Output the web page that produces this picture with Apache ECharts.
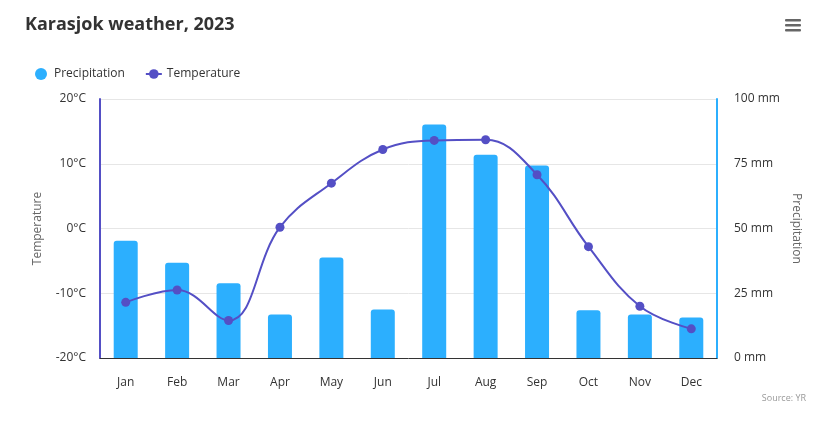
<!DOCTYPE html>
<html>
<head>
<meta charset="utf-8">
<script src="https://cdn.jsdelivr.net/npm/echarts@6/dist/echarts.min.js"></script>
<style>
  html, body { margin: 0; padding: 0; background: #fff; }
  #chart { width: 816px; height: 424px; }
</style>
</head>
<body>
<div id="chart"></div>
<script>
const months = ["Jan", "Feb", "Mar", "Apr", "May", "Jun", "Jul", "Aug", "Sep", "Oct", "Nov", "Dec"];
const precipitation = [45.3, 36.8, 28.9, 16.8, 38.8, 18.7, 90.2, 78.5, 74.3, 18.4, 16.8, 15.6];
const temperature = [-11.4, -9.5, -14.2, 0.2, 7.0, 12.2, 13.6, 13.7, 8.3, -2.8, -12.0, -15.5];

const font = "'Open Sans', 'Noto Sans', sans-serif";
const chart = echarts.init(document.getElementById("chart"));

chart.setOption({
  animation: false,
  textStyle: { fontFamily: font },
  title: {
    text: "Karasjok weather, 2023",
    left: 20,
    top: 11,
    textStyle: { fontSize: 18, fontWeight: "bold", color: "#333333", fontFamily: font }
  },
  legend: {
    left: 30,
    top: 63,
    itemGap: 20,
    itemWidth: 16,
    itemHeight: 12,
    textStyle: { fontSize: 12, color: "#333333", fontFamily: font },
    data: [{ name: "Precipitation", icon: "circle" }, "Temperature"]
  },
  grid: { left: 100, right: 99, top: 99, bottom: 66 },
  xAxis: {
    type: "category",
    data: months,
    axisLine: { onZero: false, lineStyle: { color: "#333333", width: 1 } },
    axisTick: { show: false },
    axisLabel: { color: "#333333", fontSize: 12, margin: 19 }
  },
  yAxis: [
    {
      type: "value",
      name: "Temperature",
      nameLocation: "middle",
      nameGap: 56,
      nameTextStyle: { color: "#666666", fontSize: 12 },
      min: -20,
      max: 20,
      interval: 10,
      axisLine: { show: true, lineStyle: { color: "#544fc5", width: 2 } },
      axisTick: { show: false },
      axisLabel: { formatter: "{value}°C", color: "#333333", fontSize: 12, margin: 14 },
      splitLine: { lineStyle: { color: "#e6e6e6" } }
    },
    {
      type: "value",
      name: "Precipitation",
      nameLocation: "middle",
      nameGap: 70,
      nameRotate: -90,
      nameTextStyle: { color: "#666666", fontSize: 12 },
      min: 0,
      max: 100,
      interval: 25,
      position: "right",
      axisLine: { show: true, lineStyle: { color: "#2caffe", width: 2 } },
      axisTick: { show: false },
      axisLabel: { formatter: "{value} mm", color: "#333333", fontSize: 12, margin: 17 },
      splitLine: { show: false }
    }
  ],
  series: [
    {
      name: "Precipitation",
      type: "bar",
      yAxisIndex: 1,
      data: precipitation,
      barWidth: 24,
      itemStyle: { color: "#2caffe", borderRadius: [3, 3, 0, 0] }
    },
    {
      name: "Temperature",
      type: "line",
      yAxisIndex: 0,
      data: temperature,
      smooth: 0.4,
      symbol: "circle",
      symbolSize: 9,
      itemStyle: { color: "#544fc5" },
      lineStyle: { color: "#544fc5", width: 2 }
    }
  ],
  graphic: [
    { type: "rect", left: 785, top: 19, shape: { width: 16, height: 2.5, r: 1 }, style: { fill: "#666666" } },
    { type: "rect", left: 785, top: 24, shape: { width: 16, height: 2.5, r: 1 }, style: { fill: "#666666" } },
    { type: "rect", left: 785, top: 29, shape: { width: 16, height: 2.5, r: 1 }, style: { fill: "#666666" } },
    {
      type: "text",
      right: 10,
      top: 394,
      style: { text: "Source: YR", fill: "#999999", fontSize: 9, fontFamily: font }
    }
  ]
});
</script>
</body>
</html>
